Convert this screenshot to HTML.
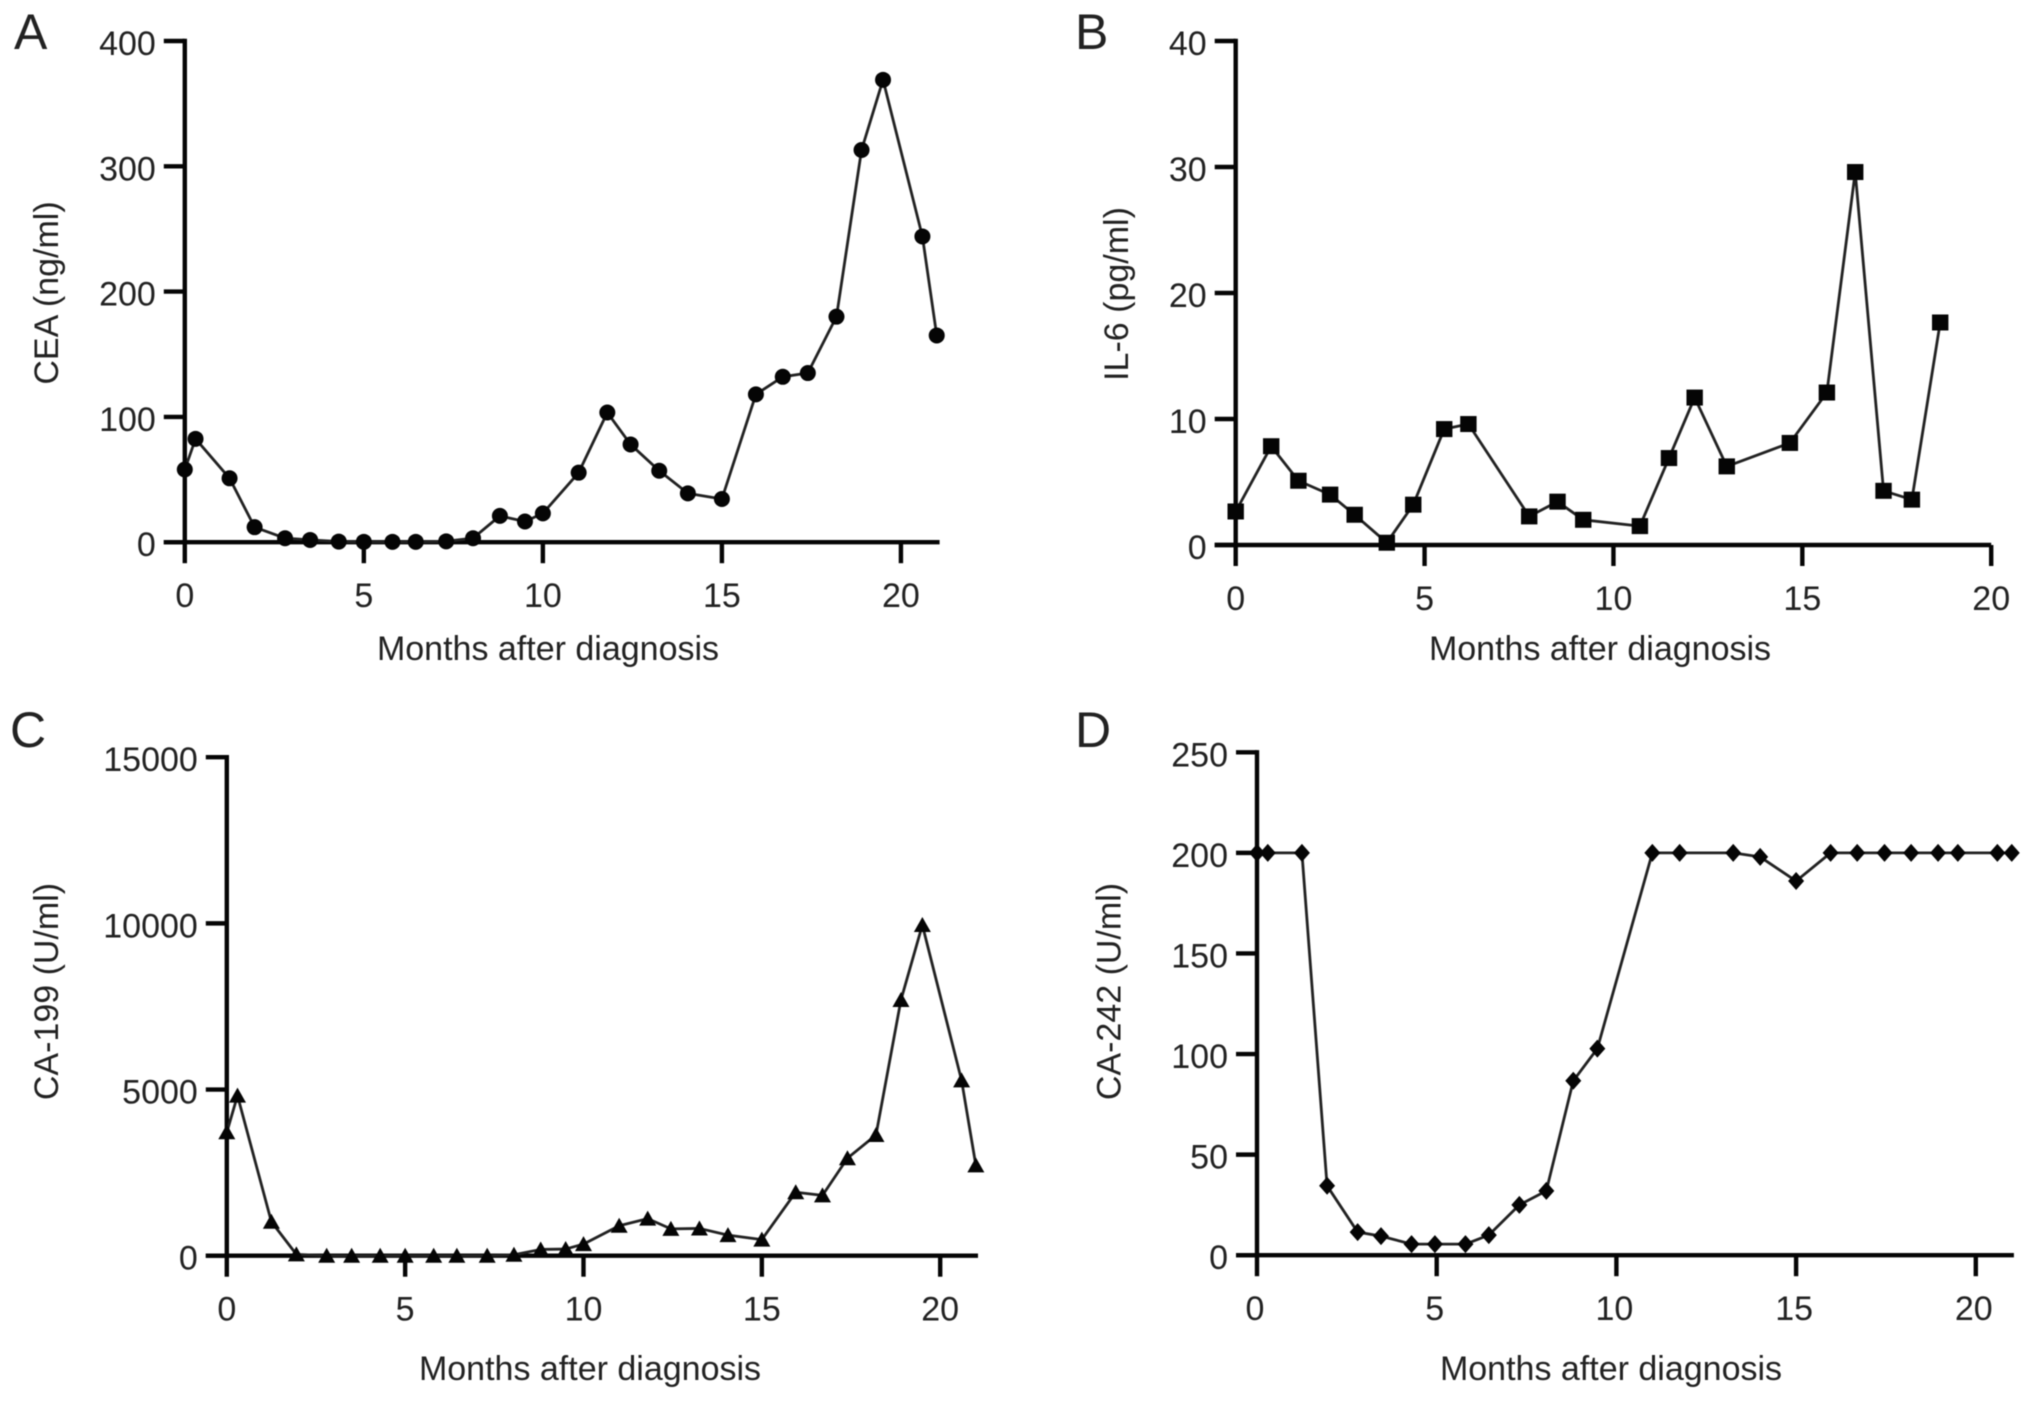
<!DOCTYPE html>
<html lang="en">
<head>
<meta charset="utf-8">
<title>Biomarker levels over months after diagnosis</title>
<style>
html,body{margin:0;padding:0;background:#fff;}
svg{display:block;filter:blur(0.6px);}
text{font-family:"Liberation Sans",Arial,Helvetica,sans-serif;fill:#222;}
.tick{font-size:34px;}
.title{font-size:34px;}
.letter{font-size:50px;}
</style>
</head>
<body>
<svg id="figure" xmlns="http://www.w3.org/2000/svg" width="2032" height="1401" viewBox="0 0 2032 1401">
<rect x="0" y="0" width="2032" height="1401" fill="#fff"/>
</svg>
<script>
// Shared axis ticks
const xTicks = [0, 5, 10, 15, 20];

// Panel A: CEA
const monthsA = [0, 0.3, 1.25, 1.95, 2.8, 3.5, 4.3, 5, 5.8, 6.45, 7.3, 8.05, 8.8, 9.5, 10, 11, 11.8, 12.45, 13.25, 14.05, 15, 15.95, 16.7, 17.4, 18.2, 18.9, 19.5, 20.6, 21];
const ceaValues = [58, 82.5, 51, 12, 3.2, 1.8, 0.5, 0.3, 0.3, 0.3, 0.7, 3.2, 21, 16.5, 23, 55.5, 103.5, 78, 57, 39, 34.5, 118, 132, 135, 180, 313, 369, 244, 165];
const yTicksA = [0, 100, 200, 300, 400];

// Panel B: IL-6
const monthsB = [0, 0.94, 1.66, 2.5, 3.15, 4, 4.7, 5.52, 6.16, 7.77, 8.52, 9.2, 10.7, 11.47, 12.15, 13, 14.67, 15.65, 16.4, 17.15, 17.9, 18.65];
const il6Values = [2.66, 7.84, 5.1, 4, 2.4, 0.18, 3.2, 9.2, 9.6, 2.27, 3.44, 2, 1.5, 6.9, 11.7, 6.24, 8.1, 12.1, 29.6, 4.3, 3.6, 17.66];
const yTicksB = [0, 10, 20, 30, 40];

// Panel C: CA-199
const monthsC = [0, 0.3, 1.25, 1.95, 2.8, 3.5, 4.3, 5, 5.8, 6.45, 7.3, 8.05, 8.8, 9.5, 10, 11, 11.8, 12.45, 13.25, 14.05, 15, 15.95, 16.7, 17.4, 18.2, 18.9, 19.5, 20.6, 21];
const ca199Values = [3713, 4816, 1022, 40, 0, 0, 0, 0, 0, 0, 0, 30, 188, 200, 350, 900, 1116, 807, 820, 620, 484, 1910, 1816, 2933, 3632, 7695, 9950, 5274, 2718];
const yTicksC = [0, 5000, 10000, 15000];

// Panel D: CA-242
const monthsD = [0, 0.3, 1.25, 1.95, 2.8, 3.45, 4.3, 4.95, 5.8, 6.45, 7.3, 8.05, 8.8, 9.47, 11, 11.76, 13.25, 14, 15, 15.96, 16.7, 17.46, 18.2, 18.95, 19.5, 20.6, 21];
const ca242Values = [200, 200, 200, 34.5, 11.5, 9.5, 5.5, 5.5, 5.5, 10, 25, 32, 86.7, 102.7, 200, 200, 200, 198, 186, 200, 200, 200, 200, 200, 200, 200, 200];
const yTicksD = [0, 50, 100, 150, 200, 250];

const NS = 'http://www.w3.org/2000/svg';
const figure = document.getElementById('figure');
const INK = '#050505';

function svgEl(tag, attrs, parent) {
  const el = document.createElementNS(NS, tag);
  for (const k in attrs) el.setAttribute(k, attrs[k]);
  parent.appendChild(el);
  return el;
}

function addLabel(parent, str, x, y, cls, anchor, name) {
  const t = svgEl('text', {x: x, y: y, class: cls, 'text-anchor': anchor}, parent);
  t.textContent = str;
  
  
  return t;
}

function drawMarker(parent, shape, px, py, name) {
  let m;
  if (shape === 'circle') {
    m = svgEl('circle', {cx: px, cy: py, r: 8}, parent);
  } else if (shape === 'square') {
    m = svgEl('rect', {x: px - 8.2, y: py - 8, width: 16.4, height: 16}, parent);
  } else if (shape === 'triangle') {
    m = svgEl('polygon', {points: (px) + ',' + (py - 8) + ' ' + (px + 8.5) + ',' + (py + 7) + ' ' + (px - 8.5) + ',' + (py + 7)}, parent);
  } else {
    m = svgEl('polygon', {points: (px) + ',' + (py - 9) + ' ' + (px + 8) + ',' + (py) + ' ' + (px) + ',' + (py + 9) + ' ' + (px - 8) + ',' + (py)}, parent);
  }
  m.setAttribute('fill', INK);
  
  
}

function drawPanel(cfg, months, values, yTicks) {
  const g = svgEl('g', {}, figure);
  
  

  const xScale = function (v) { return cfg.xLeft + (v / cfg.xMax) * (cfg.xRight - cfg.xLeft); };
  const yScale = function (v) { return cfg.yBottom - (v / cfg.yMax) * (cfg.yBottom - cfg.yTop); };
  const axisWidth = 4.4;
  const tickLen = 21;

  addLabel(g, cfg.letter, cfg.letterX, cfg.letterY, 'letter', 'start', 'panel-letter-' + cfg.letter.toLowerCase());

  // axes
  const yAxis = svgEl('line', {x1: xScale(0), x2: xScale(0), y1: yScale(cfg.yMax) - 2.2, y2: yScale(0) + 2.2, stroke: INK, 'stroke-width': axisWidth}, g);
  
  
  const xAxis = svgEl('line', {x1: xScale(0) - tickLen, x2: cfg.xRight, y1: yScale(0), y2: yScale(0), stroke: INK, 'stroke-width': axisWidth}, g);
  
  

  yTicks.forEach(function (v) {
    const tk = svgEl('line', {x1: xScale(0) - tickLen, x2: xScale(0), y1: yScale(v), y2: yScale(v), stroke: INK, 'stroke-width': axisWidth}, g);
    
    
    addLabel(g, String(v), xScale(0) - 29, yScale(v) + 14, 'tick', 'end', 'y-tick-label-' + v);
  });
  xTicks.forEach(function (v) {
    const tk = svgEl('line', {x1: xScale(v), x2: xScale(v), y1: yScale(0), y2: yScale(0) + tickLen, stroke: INK, 'stroke-width': axisWidth}, g);
    
    
    addLabel(g, String(v), xScale(v) + cfg.xLabelShift, yScale(0) + 65, 'tick', 'middle', 'x-tick-label-' + v);
  });

  addLabel(g, 'Months after diagnosis', cfg.xTitleX, cfg.xTitleY, 'title', 'middle', 'x-axis-title');
  const yt = addLabel(g, cfg.yTitle, 0, 0, 'title', 'middle', 'y-axis-title');
  yt.setAttribute('transform', 'translate(' + cfg.yTitleX + ',' + cfg.yTitleY + ') rotate(-90)');

  // series line
  const pts = months.map(function (m, i) { return xScale(m) + ',' + yScale(values[i]); }).join(' ');
  const line = svgEl('polyline', {points: pts, fill: 'none', stroke: '#222', 'stroke-width': 2.8, 'stroke-linejoin': 'round'}, g);
  
  

  // series markers
  months.forEach(function (m, i) {
    drawMarker(g, cfg.shape, xScale(m), yScale(values[i]), cfg.key + '-point');
  });
}

drawPanel({key: 'cea', letter: 'A', letterX: 14, letterY: 49, yTitle: 'CEA (ng/ml)', yTitleX: 58, yTitleY: 293,
  xTitleX: 548, xTitleY: 660, xLeft: 184.8, xRight: 939.6, xMax: 21.08, yBottom: 542.2, yTop: 41, yMax: 400, shape: 'circle', xLabelShift: 0},
  monthsA, ceaValues, yTicksA);

drawPanel({key: 'il6', letter: 'B', letterX: 1075, letterY: 49, yTitle: 'IL-6 (pg/ml)', yTitleX: 1128, yTitleY: 294,
  xTitleX: 1600, xTitleY: 660, xLeft: 1235.7, xRight: 1991.2, xMax: 20, yBottom: 545, yTop: 41, yMax: 40, shape: 'square', xLabelShift: 0},
  monthsB, il6Values, yTicksB);

drawPanel({key: 'ca199', letter: 'C', letterX: 10, letterY: 747, yTitle: 'CA-199 (U/ml)', yTitleX: 58, yTitleY: 991.5,
  xTitleX: 590, xTitleY: 1380, xLeft: 226.8, xRight: 978, xMax: 21.06, yBottom: 1255.7, yTop: 757.2, yMax: 15000, shape: 'triangle', xLabelShift: 0},
  monthsC, ca199Values, yTicksC);

drawPanel({key: 'ca242', letter: 'D', letterX: 1075, letterY: 747, yTitle: 'CA-242 (U/ml)', yTitleX: 1120.5, yTitleY: 991.5,
  xTitleX: 1611, xTitleY: 1380, xLeft: 1257, xRight: 2013.9, xMax: 21.06, yBottom: 1255.2, yTop: 752.3, yMax: 250, shape: 'diamond', xLabelShift: -2},
  monthsD, ca242Values, yTicksD);
</script>
</body>
</html>
